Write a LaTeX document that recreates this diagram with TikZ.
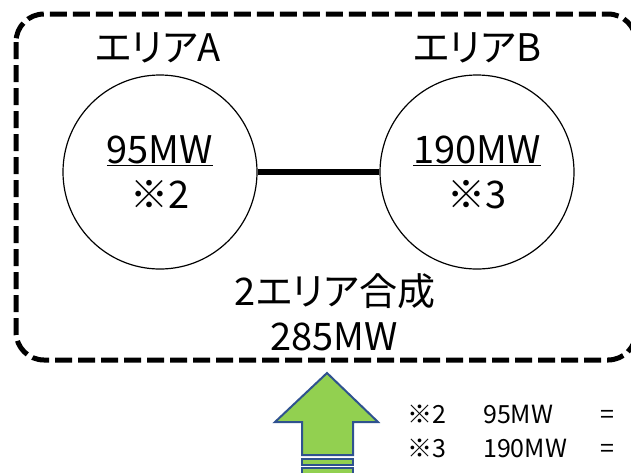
\documentclass[tikz,border=0pt]{standalone}
\usepackage{fontspec}
\setmainfont{Noto Sans CJK JP}[RawFeature=+palt]
\definecolor{arrowgreen}{HTML}{92D050}
\definecolor{arrowblue}{HTML}{2F528F}
\tikzset{area/.style={circle, draw, line width=1.2pt, minimum size=194pt, inner sep=0pt, align=center, font=\fontsize{38}{45}\selectfont},
  big/.style={font=\fontsize{38}{45}\selectfont, inner sep=0pt, anchor=base},
  note/.style={font=\fontsize{25}{30}\selectfont, inner sep=0pt, anchor=base west},
  upbox/.style={fill=arrowgreen, draw=arrowblue, line width=2pt}}

\begin{document}
\begin{tikzpicture}[x=1pt,y=-1pt]
  \useasboundingbox (0,0) rectangle (631,472);
  \clip (0,0) rectangle (631,472);
  \draw[line width=5pt, dash pattern=on 17pt off 6pt, rounded corners=28pt] (16,14) rectangle (636,360);
  \node[big] (la) at (158,61) {エリアA};
  \node[big] (lb) at (477,61) {エリアB};
  \node[area] (a) at (160,172) {\underline{95MW}\\※2};
  \node[area] (b) at (477,172) {\underline{190MW}\\※3};
  \draw[line width=6pt] (a) -- (b);
  \node[big] (sum) at (335,305) {2エリア合成};
  \node[big] (total) at (334,350) {285MW};
  % up arrow with two bars
  \filldraw[upbox] (327,373) -- (378,422) -- (353,422) -- (353,455) -- (302,455) -- (302,422) -- (275,422) -- cycle;
  \filldraw[upbox] (302,459) rectangle (353,465);
  \filldraw[upbox] (302,468) rectangle (353,477);
  \node[note] (n2) at (407,423) {\makebox[76pt][l]{※2}\makebox[117pt][l]{95MW}=};
  \node[note] (n3) at (407,457) {\makebox[76pt][l]{※3}\makebox[117pt][l]{190MW}=};
\end{tikzpicture}
\end{document}
